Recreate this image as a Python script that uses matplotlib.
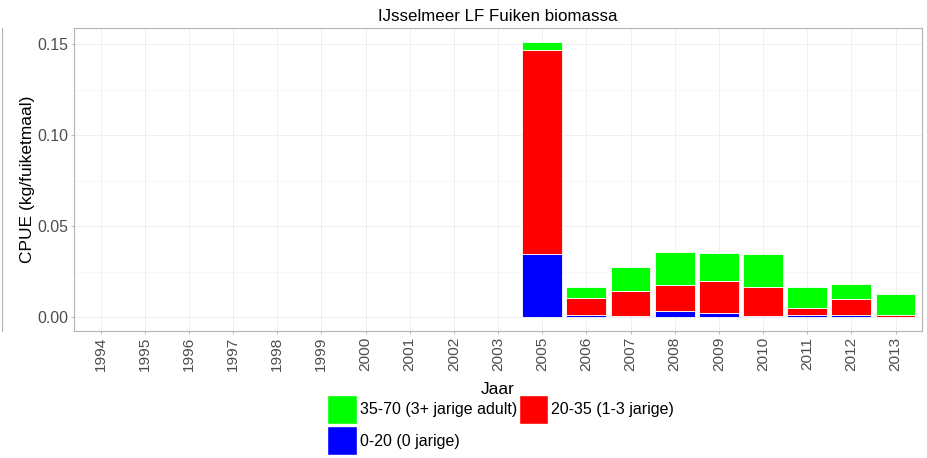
import numpy as np
import matplotlib
matplotlib.use("Agg")
import matplotlib.pyplot as plt
from matplotlib.lines import Line2D
from matplotlib.patches import Patch

plt.rcParams['font.family'] = ['Liberation Sans', 'DejaVu Sans']

# CPUE per jaar, per lengteklasse (kg/fuiketmaal)
years = ['1994', '1995', '1996', '1997', '1998', '1999', '2000', '2001', '2002', '2003',
         '2005', '2006', '2007', '2008', '2009', '2010', '2011', '2012', '2013']
cpue_0_20 = [0, 0, 0, 0, 0, 0, 0, 0, 0, 0,
             0.0346, 0.0015, 0.0007, 0.0037, 0.0022, 0.0008, 0.0015, 0.0013, 0.0004]
cpue_20_35 = [0, 0, 0, 0, 0, 0, 0, 0, 0, 0,
              0.1123, 0.0091, 0.0136, 0.0143, 0.0178, 0.0161, 0.0038, 0.0088, 0.0011]
cpue_35_70 = [0, 0, 0, 0, 0, 0, 0, 0, 0, 0,
              0.0045, 0.0059, 0.0132, 0.0177, 0.0155, 0.0180, 0.0114, 0.0080, 0.0111]

labels = ['35-70 (3+ jarige adult)', '0-20 (0 jarige)', '20-35 (1-3 jarige)']
GREEN, RED, BLUE = '#00ff00', '#ff0000', '#0000ff'
TICK_GREY = '#4d4d4d'

W, H = 927, 458
fig = plt.figure(figsize=(W / 100, H / 100), dpi=100)
ax = fig.add_axes([74 / W, 1 - 331 / H, (922 - 74) / W, (331 - 28) / H])

x = np.arange(len(years))
b0 = np.array(cpue_0_20)
b1 = np.array(cpue_20_35)
b2 = np.array(cpue_35_70)
has = (b0 + b1 + b2) > 0  # years without catch get no bar
kw = dict(width=0.9, edgecolor='white', linewidth=0.6, zorder=3)
ax.bar(x[has], b0[has], color=BLUE, **kw)
ax.bar(x[has], b1[has], bottom=b0[has], color=RED, **kw)
ax.bar(x[has], b2[has], bottom=(b0 + b1)[has], color=GREEN, **kw)

ax.set_xlim(-0.6, len(years) - 0.4)
ax.set_ylim(-0.00753, 0.15896)
ax.set_yticks([0, 0.05, 0.10, 0.15])
ax.set_yticklabels(['0.00', '0.05', '0.10', '0.15'])
ax.set_yticks([0.025, 0.075, 0.125], minor=True)
ax.set_xticks(x)
ax.set_xticklabels(years, rotation=90)

ax.grid(which='major', color='#ececec', lw=0.6, zorder=0)
ax.grid(which='minor', axis='y', color='#f4f4f4', lw=0.5, zorder=0)
ax.set_axisbelow(True)
for s in ax.spines.values():
    s.set_color('#b3b3b3')
    s.set_linewidth(0.8)
ax.tick_params(which='major', length=2.5, width=0.6, color='#b3b3b3',
               labelcolor=TICK_GREY, labelsize=11.4, pad=1.5)
ax.tick_params(axis='x', labelsize=11.1)
ax.tick_params(which='minor', length=0)

ax.set_title('IJsselmeer LF Fuiken biomassa', fontsize=12.2, pad=5)
ax.set_ylabel('CPUE (kg/fuiketmaal)', fontsize=12.5, labelpad=2)
fig.text((74 + 922) / 2 / W, 1 - 389 / H, 'Jaar', ha='center', va='center', fontsize=12.5)

handles = [Patch(facecolor=GREEN, edgecolor='white'),
           Patch(facecolor=BLUE, edgecolor='white'),
           Patch(facecolor=RED, edgecolor='white')]
fig.legend(handles, labels, ncol=2, loc='upper left',
           bbox_to_anchor=(327 / W, 1 - 395 / H), frameon=False, fontsize=11.5,
           handlelength=1.85, handleheight=2.4, handletextpad=0.2,
           labelspacing=0.15, columnspacing=0.1, borderpad=0, borderaxespad=0)

# thin border line at far left
fig.add_artist(Line2D([1.5 / W, 1.5 / W], [1 - 28 / H, 1 - 331 / H],
                      transform=fig.transFigure, color='#b3b3b3', lw=0.8))

fig.savefig('out.png', dpi=100)
